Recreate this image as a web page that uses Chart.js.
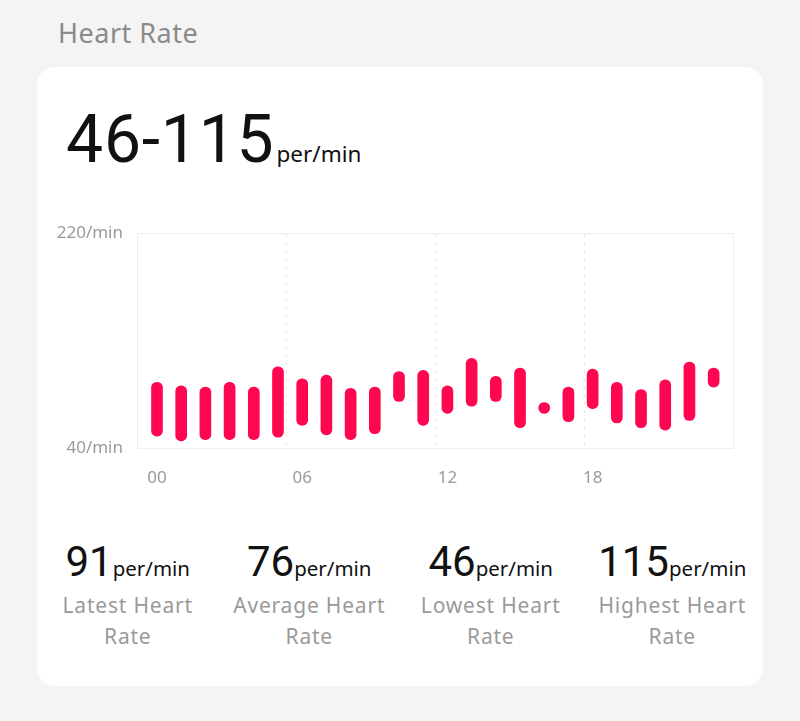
<!DOCTYPE html>
<html>
<head>
<meta charset="utf-8">
<script src="https://cdn.jsdelivr.net/npm/chart.js@4/dist/chart.umd.min.js"></script>
<style>
  html,body{margin:0;padding:0;}
  body{width:800px;height:721px;background:#f4f4f4;position:relative;overflow:hidden;font-family:"Noto Sans",Roboto,sans-serif;}
  .title{position:absolute;left:58px;top:14px;font-size:27px;color:#8a8a8a;letter-spacing:0.5px;}
  .card{position:absolute;left:37px;top:67px;width:726px;height:619px;background:#fff;border-radius:18px;}
  .big{position:absolute;left:66px;top:101px;white-space:nowrap;color:#111;}
  .big .n{font-family:Roboto,"Noto Sans",sans-serif;font-size:66px;letter-spacing:0.8px;font-weight:400;}
  .big .u{font-size:22.5px;margin-left:2px;}
  #wrap{position:absolute;left:37px;top:215px;width:726px;height:285px;}
  .stats{position:absolute;left:37px;top:534px;width:726px;display:flex;}
  .stat{width:181.5px;text-align:center;}
  .stat .v{white-space:nowrap;color:#111;line-height:56px;}
  .stat .v .n{font-family:Roboto,"Noto Sans",sans-serif;font-size:42px;}
  .stat .v .u{font-size:20.5px;margin-left:0px;}
  .stat .l{font-size:21px;color:#9a9a9a;line-height:31px;margin-top:-8px;letter-spacing:0.8px;}
</style>
</head>
<body>
<div class="title">Heart Rate</div>
<div class="card"></div>
<div class="big"><span class="n">46-115</span><span class="u">per/min</span></div>
<div id="wrap"><canvas id="c" width="726" height="285"></canvas></div>
<div class="stats">
  <div class="stat"><div class="v"><span class="n">91</span><span class="u">per/min</span></div><div class="l">Latest Heart<br>Rate</div></div>
  <div class="stat"><div class="v"><span class="n">76</span><span class="u">per/min</span></div><div class="l">Average Heart<br>Rate</div></div>
  <div class="stat"><div class="v"><span class="n">46</span><span class="u">per/min</span></div><div class="l">Lowest Heart<br>Rate</div></div>
  <div class="stat"><div class="v"><span class="n">115</span><span class="u">per/min</span></div><div class="l">Highest Heart<br>Rate</div></div>
</div>
<script>
// ---- data ----
const hours = [0,1,2,3,4,5,6,7,8,9,10,11,12,13,14,15,16,17,18,19,20,21,22,23];
const lows  = [50,46,47,47,47,49,59,51,47,52,79,59,69,75,79,57,69,62,73,61,57,55,63,91];
const highs = [95,92,91,95,91,108,98,101,90,91,104,105,92,115,100,107,78,91,106,95,89,97,112,107];
const xTickValues = [0,6,12,18];
const xTickLabels = ['00','06','12','18'];
const yTickValues = [40,220];
const yTickLabels = ['40/min','220/min'];
const quarterLines = [0,1,2,3,4];

const BAR = '#fe0650';
const GRID = '#eeeeee';
const DASH = '#e6e6e6';
const TICK = '#9a9a9a';

new Chart(document.getElementById('c'), {
  type: 'bar',
  data: {
    datasets: [{
      data: hours.map((h,i)=>({x:h, y:[lows[i], highs[i]]})),
      backgroundColor: BAR,
      borderRadius: 6,
      borderSkipped: false,
      barThickness: 11
    }]
  },
  options: {
    responsive: false,
    animation: false,
    layout: {padding: {top:18, right:30, left:0, bottom:0}},
    plugins: {legend:{display:false}, tooltip:{enabled:false}},
    scales: {
      x: {
        type: 'linear', min: -0.826, max: 23.8, position: 'bottom', offset: false,
        afterBuildTicks: s => { s.ticks = xTickValues.map(v=>({value:v})); },
        ticks: {
          callback: v => xTickLabels[xTickValues.indexOf(v)],
          color: TICK, font: {size:17, family:'"Noto Sans", Roboto, sans-serif'},
          padding: 20, autoSkip: false, maxRotation: 0
        },
        grid: {display:false, drawTicks:false, offset:false},
        border: {color: GRID},
        afterFit: s => { s.height = 52; s.paddingLeft = 0; s.paddingRight = 0; }
      },
      x2: {
        type: 'linear', min: 0, max: 4, position: 'top', offset: false,
        afterBuildTicks: s => { s.ticks = quarterLines.map(v=>({value:v})); },
        ticks: {display:false},
        grid: {
          drawTicks: false, offset: false,
          color: c => (c.tick && (c.tick.value===0 || c.tick.value===4)) ? 'rgba(0,0,0,0)' : DASH
        },
        border: {color: GRID, dash:[3,5]},
        afterFit: s => { s.height = 0; }
      },
      y: {
        min: 40, max: 220,
        afterBuildTicks: s => { s.ticks = yTickValues.map(v=>({value:v})); },
        ticks: {
          callback: v => yTickLabels[yTickValues.indexOf(v)],
          color: TICK, font: {size:17, family:'"Noto Sans", Roboto, sans-serif'}, padding: 14
        },
        grid: {color: GRID, drawTicks:false},
        border: {color: GRID},
        afterFit: s => { s.width = 100; s.paddingTop = 0; s.paddingBottom = 0; }
      },
      y2: {
        position: 'right', min: 0, max: 1,
        ticks: {display:false},
        grid: {display:false, drawTicks:false},
        border: {color: GRID},
        afterFit: s => { s.width = 0; s.paddingTop = 0; s.paddingBottom = 0; }
      }
    }
  }
});
</script>
</body>
</html>
